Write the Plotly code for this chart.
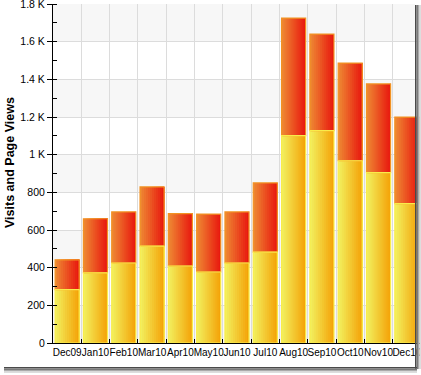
import plotly.graph_objects as go

months = ["Dec09", "Jan10", "Feb10", "Mar10", "Apr10", "May10", "Jun10",
          "Jul10", "Aug10", "Sep10", "Oct10", "Nov10", "Dec10"]
visits = [283, 372, 425, 515, 409, 377, 425, 483, 1101, 1128, 968, 905, 740]
page_views = [159, 288, 271, 314, 278, 308, 271, 367, 625, 513, 519, 471, 460]
y_tickvals = [0, 200, 400, 600, 800, 1000, 1200, 1400, 1600, 1800]
y_ticktext = ["0", "200", "400", "600", "800", "1 K", "1.2 K", "1.4 K", "1.6 K", "1.8 K"]

def lerp(c1, c2, t):
    return "rgb(%d,%d,%d)" % tuple(round(a + (b - a) * t) for a, b in zip(c1, c2))

YEL_L, YEL_R = (242, 238, 92), (244, 164, 10)
RED_L, RED_R = (238, 134, 50), (232, 26, 16)

fig = go.Figure()
BW = 0.85
N = 12
sw = BW / N
for i in range(N):
    t = i / (N - 1)
    off = -BW / 2 + i * sw
    w = BW - i * sw
    fig.add_trace(go.Bar(x=months, y=visits, width=w, offset=off,
                         marker=dict(color=lerp(YEL_L, YEL_R, t), line=dict(width=0)),
                         showlegend=False, hoverinfo="skip"))
    fig.add_trace(go.Bar(x=months, y=page_views, base=visits, width=w, offset=off,
                         marker=dict(color=lerp(RED_L, RED_R, t), line=dict(width=0)),
                         showlegend=False, hoverinfo="skip"))
# outlines
fig.add_trace(go.Bar(x=months, y=page_views, base=visits, width=BW, offset=-BW / 2,
                     marker=dict(color="rgba(0,0,0,0)", line=dict(color="#f29222", width=1.2)),
                     showlegend=False, name="Page Views"))
fig.add_trace(go.Bar(x=months, y=visits, width=BW, offset=-BW / 2,
                     marker=dict(color="rgba(0,0,0,0)", line=dict(color="#f9ec4a", width=1.2)),
                     showlegend=False, name="Visits"))

# alternating background bands
shapes = []
for y0 in range(0, 1800, 400):
    shapes.append(dict(type="rect", xref="paper", yref="y", x0=0, x1=1, y0=y0, y1=y0 + 200,
                       fillcolor="#f7f7f7", line=dict(width=0), layer="below"))
shapes.append(dict(type="rect", xref="paper", yref="y", x0=0, x1=1, y0=1600, y1=1800,
                   fillcolor="#f7f7f7", line=dict(width=0), layer="below"))

# window drop shadow (right and bottom)
W, H, L, T, B = 421, 375, 53, 4, 32
pw, ph = W - L, H - T - B
def px(x):
    return (x - L) / pw
def py(y):
    return (H - B - y) / ph
shadow_r = [(415, 416.5, "#4a4a4a"), (416.5, 418, "#7a7a7a"), (418, 419.5, "#aaaaaa"), (419.5, 421, "#dddddd")]
for x0, x1, c in shadow_r:
    shapes.append(dict(type="rect", xref="paper", yref="paper", x0=px(x0), x1=px(x1),
                       y0=py(369), y1=py(5), fillcolor=c, line=dict(width=0), layer="above"))
shapes.append(dict(type="rect", xref="paper", yref="paper", x0=px(415), x1=px(421),
                   y0=py(375), y1=py(369), fillcolor="white", line=dict(width=0), layer="above"))
shadow_b = [(367, 368.5, "#4a4a4a"), (368.5, 370, "#7a7a7a"), (370, 371.5, "#aaaaaa"), (371.5, 373, "#dddddd")]
for y0, y1, c in shadow_b:
    shapes.append(dict(type="rect", xref="paper", yref="paper", x0=px(4), x1=px(417),
                       y0=py(y1), y1=py(y0), fillcolor=c, line=dict(width=0), layer="above"))
shapes.append(dict(type="rect", xref="paper", yref="paper", x0=px(0), x1=px(421),
                   y0=py(375), y1=py(373), fillcolor="white", line=dict(width=0), layer="above"))
shapes.append(dict(type="rect", xref="paper", yref="paper", x0=px(415), x1=px(421),
                   y0=py(5), y1=py(0), fillcolor="white", line=dict(width=0), layer="above"))

font = "Liberation Sans, Arial, sans-serif"
fig.update_layout(
    width=W, height=H,
    margin=dict(l=L, r=0, t=T, b=B, pad=0, autoexpand=False),
    paper_bgcolor="white", plot_bgcolor="white",
    barmode="overlay",
    shapes=shapes,
    font=dict(family=font, size=10, color="black"),
    xaxis=dict(type="category", tickson="boundaries", ticks="inside", ticklen=4,
               tickcolor="black", showgrid=True, gridcolor="#dcdcdc", gridwidth=1,
               showline=True, linecolor="black", linewidth=1, tickangle=0, automargin=False,
               tickfont=dict(family=font, size=10, color="black"),
               range=[-0.5, 12.5], fixedrange=True),
    yaxis=dict(range=[0, 1800.5], tickvals=y_tickvals, ticktext=y_ticktext,
               ticks="outside", ticklen=5, tickcolor="black", automargin=False,
               ticklabeloverflow="allow",
               showgrid=True, gridcolor="#dcdcdc", gridwidth=1,
               showline=True, linecolor="black", linewidth=1, zeroline=False,
               minor=dict(dtick=100, ticks="inside", ticklen=4, tickcolor="black", showgrid=False),
               tickfont=dict(family=font, size=10.5, color="black"), fixedrange=True),
    annotations=[dict(text="<b>Visits and Page Views</b>", textangle=-90,
                      xref="paper", yref="paper", x=px(10), y=py(163),
                      xanchor="center", yanchor="middle", showarrow=False,
                      font=dict(family=font, size=12.5, color="black"))],
)

fig.write_html("out.html", config={"displayModeBar": False},
               post_script="document.body.style.margin='0';document.body.style.padding='0';")
